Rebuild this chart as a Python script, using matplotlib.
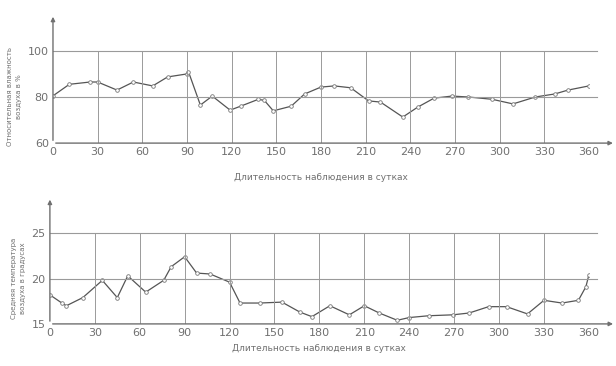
import matplotlib.pyplot as plt

# relative humidity, %
hum_days = [0, 11, 25, 30, 43, 54, 67, 77, 90, 91, 99, 107, 119, 126, 138, 142,
            148, 160, 169, 180, 189, 200, 212, 220, 235, 245, 256, 268, 279,
            295, 309, 324, 337, 346, 360]
hum_vals = [80.5, 85.5, 86.5, 86.5, 83, 86.5, 84.8, 88.7, 90, 91, 76.5, 80.4,
            74.3, 76, 79, 78.5, 74, 76, 81.3, 84.3, 84.8, 84, 78.3, 77.8, 71.3,
            75.6, 79.5, 80.4, 80, 79, 77, 80, 81.3, 83, 84.8]

# mean air temperature, degrees
tmp_days = [0, 8, 11, 22, 35, 45, 52, 64, 76, 81, 90, 98, 107, 120, 127, 140,
            155, 167, 175, 187, 200, 210, 220, 232, 240, 253, 269, 280, 293,
            305, 319, 330, 342, 353, 358, 360]
tmp_vals = [18.2, 17.3, 17.0, 17.9, 19.8, 17.9, 20.3, 18.5, 19.8, 21.3, 22.4,
            20.6, 20.5, 19.6, 17.3, 17.3, 17.4, 16.3, 15.8, 17.0, 16.0, 17.0,
            16.2, 15.4, 15.7, 15.9, 16.0, 16.2, 16.9, 16.9, 16.1, 17.6, 17.3,
            17.6, 19.1, 20.4]

xticks = list(range(0, 361, 30))
xlabel = "Длительность наблюдения в сутках"

INK = "#707070"
GRID = "#9a9a9a"


def panel(fig, rect, days, vals, yticks, ylabel, right_line=True, xpad=4):
    ax = fig.add_axes(rect)
    ax.plot(days, vals, color="#555555", lw=0.9, marker="o", ms=2.6,
            mfc="white", mec="#777777", mew=0.6)
    ax.set_xlim(0, 360)
    ax.set_ylim(yticks[0], yticks[-1])
    for s in ax.spines.values():
        s.set_visible(False)
    ax.set_xticks(xticks)
    ax.set_yticks(yticks)
    ax.tick_params(length=0, labelsize=8, labelcolor=INK, pad=3)
    vlines = xticks[1:] if right_line else xticks[1:-1]
    for x in vlines:
        ax.axvline(x, color=GRID, lw=0.7)
    for y in yticks[1:]:
        ax.plot([0, 1.015], [(y - yticks[0]) / (yticks[-1] - yticks[0])] * 2,
                transform=ax.transAxes, color=GRID, lw=0.8, clip_on=False)
    # axes with arrows
    ax.annotate("", xy=(1.05, 0), xytext=(0, 0), xycoords="axes fraction",
                arrowprops=dict(arrowstyle="-|>", color=INK, lw=1.0,
                                mutation_scale=6), annotation_clip=False)
    ax.annotate("", xy=(0, 1.4), xytext=(0, 0), xycoords="axes fraction",
                arrowprops=dict(arrowstyle="-|>", color=INK, lw=1.0,
                                mutation_scale=6), annotation_clip=False)
    ax.set_xlabel(xlabel, fontsize=6.5, color=INK, labelpad=xpad)
    ax.set_ylabel(ylabel, fontsize=5, color=INK, labelpad=4, linespacing=1.6)
    return ax


fig = plt.figure(figsize=(6.16, 3.66), dpi=100)
panel(fig, [0.086, 0.609, 0.870, 0.252], hum_days, hum_vals, [60, 80, 100],
      "Относительная влажность\nвоздуха в %", right_line=False, xpad=11)
panel(fig, [0.081, 0.115, 0.875, 0.248], tmp_days, tmp_vals, [15, 20, 25],
      "Средняя температура\nвоздуха в градусах")

fig.savefig("out.png", dpi=100, facecolor="white")
